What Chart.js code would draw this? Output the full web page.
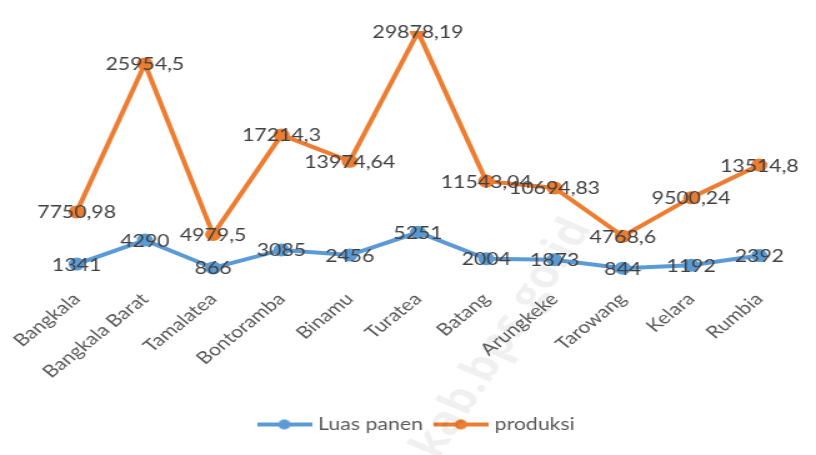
<!DOCTYPE html>
<html>
<head>
<meta charset="utf-8">
<script src="https://cdn.jsdelivr.net/npm/chart.js@4/dist/chart.umd.min.js"></script>
<style>
  html, body { margin: 0; padding: 0; background: #fff; overflow: hidden; }
  /* the source picture is a chart stretched sideways, so draw narrow and stretch */
  #wrap { width: 653px; height: 455px; position: relative; transform: scaleX(1.2496); transform-origin: 0 0; }
</style>
</head>
<body>
<div id="wrap"><canvas id="chart"></canvas></div>
<script>
const kecamatan = ['Bangkala', 'Bangkala Barat', 'Tamalatea', 'Bontoramba', 'Binamu', 'Turatea', 'Batang', 'Arungkeke', 'Tarowang', 'Kelara', 'Rumbia'];
const luasPanen = [1341, 4290, 866, 3085, 2456, 5251, 2004, 1873, 844, 1192, 2392];
const produksi = [7750.98, 25954.5, 4979.5, 17214.3, 13974.64, 29878.19, 11543.04, 10694.83, 4768.6, 9500.24, 13514.8];

const BLUE = '#5B9BD5';
const ORANGE = '#ED7D31';

// legend marker: short line with a dot in the middle
function legendMarker(color) {
    const c = document.createElement('canvas');
    c.width = 44;
    c.height = 14;
    const g = c.getContext('2d');
    g.strokeStyle = color;
    g.lineWidth = 4;
    g.beginPath();
    g.moveTo(0, 7);
    g.lineTo(44, 7);
    g.stroke();
    g.fillStyle = color;
    g.beginPath();
    g.arc(22, 7, 5, 0, Math.PI * 2);
    g.fill();
    return c;
}

// values written on the points, decimal comma
const valueLabels = {
    id: 'valueLabels',
    afterDatasetsDraw(chart) {
        const ctx = chart.ctx;
        ctx.save();
        ctx.font = '17px Lato';
        ctx.fillStyle = '#404040';
        ctx.textAlign = 'center';
        ctx.textBaseline = 'middle';
        chart.data.datasets.forEach((ds, i) => {
            chart.getDatasetMeta(i).data.forEach((pt, j) => {
                ctx.fillText(String(ds.data[j]).replace('.', ','), pt.x, pt.y + 1);
            });
        });
        ctx.restore();
    }
};

const watermark = {
    id: 'watermark',
    afterDraw(chart) {
        const ctx = chart.ctx;
        ctx.save();
        ctx.translate(464, 222);
        ctx.rotate(-62 * Math.PI / 180);
        ctx.font = 'bold 40px "Open Sans"';
        ctx.fillStyle = 'rgba(0,0,0,0.06)';
        ctx.textAlign = 'right';
        ctx.textBaseline = 'middle';
        ctx.fillText('jenepontokab.bps.go.id', 0, 0);
        ctx.restore();
    }
};

new Chart(document.getElementById('chart'), {
    type: 'line',
    data: {
        labels: kecamatan,
        datasets: [
            {
                label: 'Luas panen',
                data: luasPanen,
                borderColor: BLUE,
                backgroundColor: BLUE,
                borderWidth: 4,
                pointRadius: 4.5,
                pointHoverRadius: 4.5,
                tension: 0
            },
            {
                label: 'produksi',
                data: produksi,
                borderColor: ORANGE,
                backgroundColor: ORANGE,
                borderWidth: 4,
                pointRadius: 4.5,
                pointHoverRadius: 4.5,
                tension: 0
            }
        ]
    },
    options: {
        responsive: true,
        maintainAspectRatio: false,
        animation: false,
        layout: { padding: { top: 31, left: 34, right: 18, bottom: 12 } },
        scales: {
            x: {
                offset: true,
                grid: { display: false },
                border: { display: false },
                ticks: {
                    color: '#595959',
                    font: { family: 'Lato', size: 17 },
                    minRotation: 45,
                    maxRotation: 45,
                    padding: 6
                },
                afterFit(scale) { scale.height = 129; }
            },
            y: {
                display: false,
                min: 0,
                max: 30000
            }
        },
        plugins: {
            tooltip: { enabled: false },
            legend: {
                position: 'bottom',
                labels: {
                    color: '#595959',
                    font: { family: 'Lato', size: 17 },
                    usePointStyle: true,
                    pointStyleWidth: 37,
                    padding: 12,
                    generateLabels(chart) {
                        return chart.data.datasets.map((ds, i) => ({
                            text: ds.label,
                            fontColor: '#595959',
                            pointStyle: legendMarker(ds.borderColor),
                            strokeStyle: ds.borderColor,
                            fillStyle: ds.borderColor,
                            lineWidth: 0,
                            hidden: false,
                            datasetIndex: i
                        }));
                    }
                }
            }
        }
    },
    plugins: [valueLabels, watermark]
});
</script>
</body>
</html>
